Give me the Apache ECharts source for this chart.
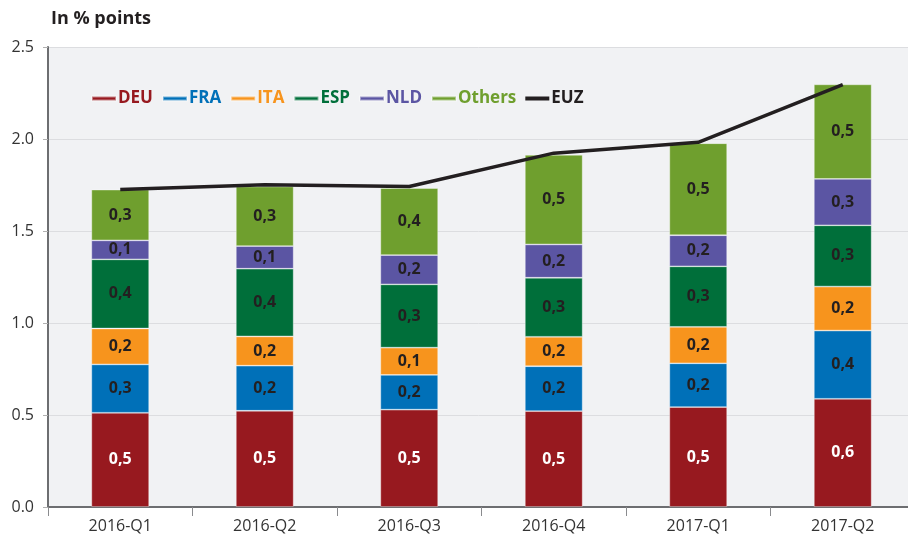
<!DOCTYPE html>
<html>
<head>
<meta charset="utf-8">
<script src="https://cdn.jsdelivr.net/npm/echarts@6/dist/echarts.min.js"></script>
<style>
  html, body { margin: 0; padding: 0; background: #fff; }
  #chart { width: 908px; height: 536px; }
</style>
</head>
<body>
<div id="chart"></div>
<script>
const categories = ['2016-Q1', '2016-Q2', '2016-Q3', '2016-Q4', '2017-Q1', '2017-Q2']
const deu = [0.512, 0.523, 0.529, 0.521, 0.543, 0.588]
const fra = [0.263, 0.245, 0.189, 0.244, 0.238, 0.371]
const ita = [0.195, 0.159, 0.148, 0.160, 0.198, 0.239]
const esp = [0.376, 0.368, 0.344, 0.321, 0.329, 0.333]
const nld = [0.103, 0.123, 0.159, 0.181, 0.169, 0.252]
const others = [0.276, 0.324, 0.364, 0.487, 0.500, 0.514]
const euz = [1.725, 1.752, 1.742, 1.923, 1.982, 2.296]
const yTicks = [0, 0.5, 1.0, 1.5, 2.0, 2.5]

const FONT = '"Open Sans", "Noto Sans", sans-serif'

const stacks = [
  { name: 'DEU', data: deu, color: '#97191f', label: '#ffffff' },
  { name: 'FRA', data: fra, color: '#0070b8', label: '#231f20' },
  { name: 'ITA', data: ita, color: '#f7941d', label: '#231f20' },
  { name: 'ESP', data: esp, color: '#006f3a', label: '#231f20' },
  { name: 'NLD', data: nld, color: '#5b55a3', label: '#231f20' },
  { name: 'Others', data: others, color: '#6f9f2e', label: '#231f20' }
]

const chart = echarts.init(document.getElementById('chart'))

const series = stacks.map(s => ({
  name: s.name,
  type: 'bar',
  stack: 'total',
  barWidth: '40%',
  color: s.color,
  itemStyle: { borderColor: 'rgba(255,255,255,0.45)', borderWidth: 0.8 },
  label: {
    show: true,
    position: 'inside',
    color: s.label,
    fontFamily: FONT,
    fontWeight: 'bold',
    fontSize: 16,
    formatter: p => p.value.toFixed(1).replace('.', ',')
  },
  data: s.data
}))

series.push({
  name: 'EUZ',
  type: 'line',
  color: '#231f20',
  symbol: 'none',
  z: 5,
  lineStyle: { width: 3.5, color: '#231f20' },
  data: euz
})

chart.setOption({
  animation: false,
  title: {
    text: 'In % points',
    left: 46,
    top: 5,
    textStyle: { fontFamily: FONT, fontWeight: 'bold', fontSize: 18, color: '#231f20' }
  },
  legend: {
    left: 86,
    top: 85,
    icon: 'rect',
    itemWidth: 24,
    itemHeight: 4,
    itemGap: 9,
    textStyle: { fontFamily: FONT, fontWeight: 'bold', fontSize: 17, padding: [0, 0, 0, -3] },
    data: stacks.map(s => ({ name: s.name, textStyle: { color: s.color } }))
      .concat([{ name: 'EUZ', textStyle: { color: '#231f20' } }])
  },
  grid: {
    left: 48,
    top: 47,
    width: 867,
    bottom: 29,
    outerBoundsMode: 'none',
    show: true,
    backgroundColor: '#f1f2f4',
    borderWidth: 0
  },
  xAxis: {
    type: 'category',
    data: categories,
    axisLine: { lineStyle: { color: '#6d6e71', width: 2 } },
    axisTick: { show: true, length: 9, lineStyle: { color: '#8a8b8e' } },
    axisLabel: { fontFamily: FONT, fontSize: 16, color: '#333333', margin: 11 }
  },
  yAxis: {
    type: 'value',
    min: 0,
    max: 2.5,
    interval: 0.5,
    axisLine: { show: true, lineStyle: { color: '#6d6e71', width: 2 } },
    axisTick: { show: true, length: 5, lineStyle: { color: '#b0b0b0' } },
    axisLabel: {
      fontFamily: FONT,
      fontSize: 16,
      color: '#333333',
      margin: 14,
      formatter: v => yTicks.includes(v) ? v.toFixed(1) : ''
    },
    splitLine: { lineStyle: { color: '#dcdde0', width: 1 } }
  },
  series: series
})
</script>
</body>
</html>
